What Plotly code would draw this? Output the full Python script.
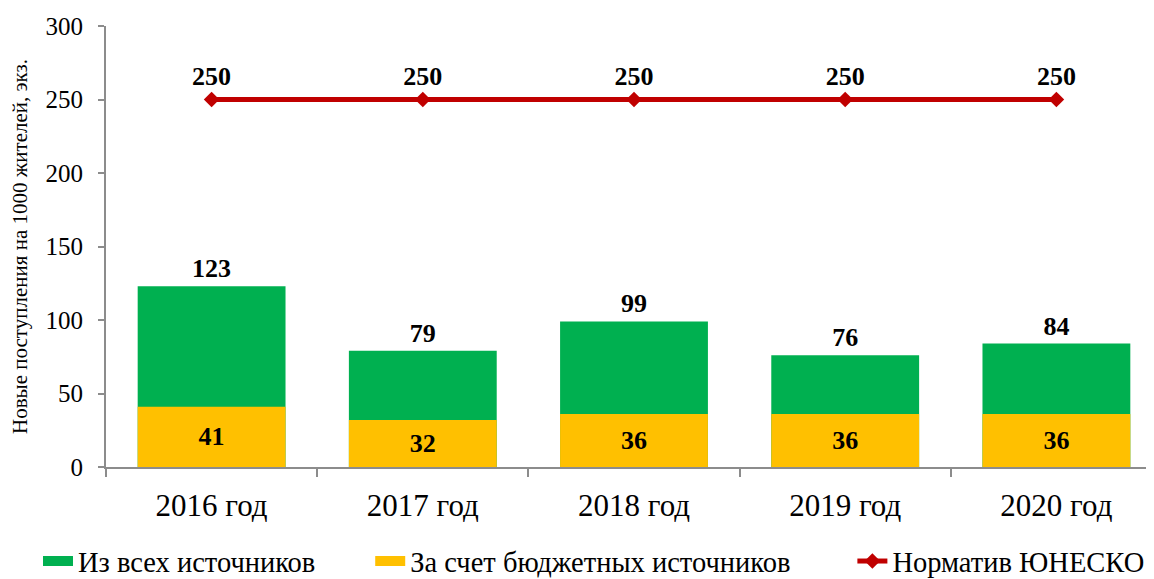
import plotly.graph_objects as go

# Data
years = ["2016 год", "2017 год", "2018 год", "2019 год", "2020 год"]
all_sources = [123, 79, 99, 76, 84]
budget_sources = [41, 32, 36, 36, 36]
unesco_norm = [250, 250, 250, 250, 250]

GREEN = "#00B050"
YELLOW = "#FFC000"
RED = "#C00000"
AXIS = "#8c8c8c"
FONT = "Liberation Serif"
NBSP = "\u00a0"

fig = go.Figure()

# Total (drawn behind), budget share overlaid in front
fig.add_trace(
    go.Bar(
        x=years,
        y=all_sources,
        showlegend=False,
        marker=dict(color=GREEN, line=dict(width=0)),
        text=all_sources,
        texttemplate="<b>%{text}</b>",
        textposition="outside",
        textfont=dict(family=FONT, size=26, color="black"),
        cliponaxis=False,
        width=0.7,
    )
)

fig.add_trace(
    go.Bar(
        x=years,
        y=budget_sources,
        showlegend=False,
        marker=dict(color=YELLOW, line=dict(width=0)),
        text=budget_sources,
        texttemplate="<b>%{text}</b>",
        textposition="inside",
        insidetextanchor="middle",
        textfont=dict(family=FONT, size=26, color="black"),
        width=0.7,
    )
)

# Legend-only entries so the bar swatches come out as wide rectangles
fig.add_trace(
    go.Scatter(x=[None], y=[None], mode="lines", name="Из всех источников" + NBSP * 7,
               line=dict(color=GREEN, width=14))
)
fig.add_trace(
    go.Scatter(x=[None], y=[None], mode="lines", name="За счет бюджетных источников" + NBSP * 8,
               line=dict(color=YELLOW, width=14))
)

fig.add_trace(
    go.Scatter(
        x=years,
        y=unesco_norm,
        name="Норматив ЮНЕСКО",
        mode="lines+markers+text",
        line=dict(color=RED, width=5),
        marker=dict(symbol="diamond", size=12, color=RED),
        text=unesco_norm,
        texttemplate="<b>%{text}</b>",
        textposition="top center",
        textfont=dict(family=FONT, size=26, color="black"),
        cliponaxis=False,
    )
)

# page body adds an 8px offset, margins are trimmed to compensate
fig.update_layout(
    barmode="overlay",
    width=1154,
    height=579,
    margin=dict(l=98, r=0, t=18, b=119),
    plot_bgcolor="white",
    paper_bgcolor="white",
    font=dict(family=FONT, color="black"),
    uniformtext=dict(mode=False),
    legend=dict(
        orientation="h",
        x=-0.0644,
        xanchor="left",
        y=-0.215,
        yanchor="middle",
        font=dict(family=FONT, size=28.5),
        traceorder="normal",
        borderwidth=0,
    ),
    xaxis=dict(
        showline=True,
        linecolor=AXIS,
        linewidth=2,
        tickfont=dict(size=31),
        ticks="outside",
        tickson="boundaries",
        ticklen=8,
        tickcolor=AXIS,
        tickwidth=2,
        ticklabelstandoff=10,
        range=[-0.5, 4.5],
        showgrid=False,
        automargin=False,
    ),
    yaxis=dict(
        range=[0, 300],
        tickvals=[0, 50, 100, 150, 200, 250, 300],
        showline=True,
        linecolor=AXIS,
        linewidth=2,
        ticks="outside",
        ticklen=6,
        tickcolor=AXIS,
        tickwidth=2,
        tickfont=dict(size=25),
        ticklabelstandoff=10,
        showgrid=False,
        zeroline=False,
        automargin=False,
        title=dict(text="Новые поступления на 1000 жителей, экз.", font=dict(size=21), standoff=14),
    ),
)

fig.write_html("out.html")
